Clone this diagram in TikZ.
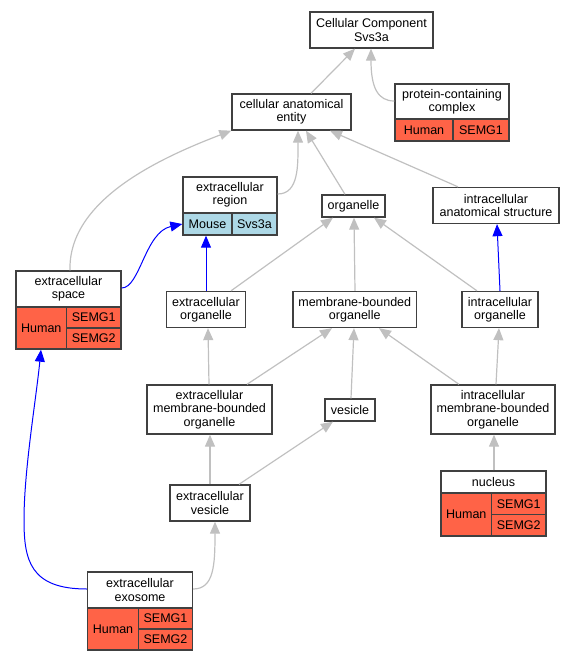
\documentclass[tikz,border=0pt]{standalone}
\usepackage{fontspec}
\setmainfont{Liberation Sans}
\usepackage{tikz}
\usetikzlibrary{arrows.meta}
\definecolor{tomato}{RGB}{255,99,71}
\definecolor{mouseblue}{RGB}{173,216,230}
\definecolor{edgegray}{RGB}{192,192,192}
\definecolor{boxline}{RGB}{64,64,64}
\newcommand{\gofont}{\fontsize{9.4}{10}\selectfont}

\begin{document}
\begin{tikzpicture}[x=0.75pt,y=0.75pt,yscale=-1,xscale=1,
  wh/.style 2 args={minimum width=#1*0.75pt,minimum height=#2*0.75pt},
  term/.style={draw=boxline,line width=1pt,fill=white,align=center,inner sep=0pt,font=\gofont},
  human/.style={term,fill=tomato},
  mouse/.style={term,fill=mouseblue},
  isa/.style={draw=edgegray,line width=0.9pt,-{Triangle[length=9pt,width=7.5pt]}},
  partof/.style={draw=blue,line width=0.75pt,-{Triangle[length=9pt,width=7.5pt]}}]
\useasboundingbox (0,0) rectangle (577,661);

% Terms
\node[term,wh={123}{36}] (root) at (371.5,30) {Cellular Component\\Svs3a};
\node[term,wh={119}{36}] (cae) at (291.5,112) {cellular anatomical\\entity};
% protein-containing complex
\node[term,wh={114}{35}] (pcc) at (452,101.5) {protein-containing\\complex};
\node[human,wh={58}{22}] (pcchuman) at (424,130) {Human};
\node[human,wh={56}{22}] (pccsemg1) at (481,130) {SEMG1};
% extracellular region
\node[term,wh={94}{36}] (extreg) at (230,195) {extracellular\\region};
\node[mouse,wh={49}{22}] (extregmouse) at (207.5,224) {Mouse};
\node[mouse,wh={45}{22}] (extregsvs) at (254.5,224) {Svs3a};
\node[term,wh={63}{22}] (organelle) at (353.5,206) {organelle};
\node[term,wh={126}{36}] (ias) at (496,205.5) {intracellular\\anatomical structure};
% extracellular space
\node[term,wh={105}{36}] (extspace) at (68.5,289) {extracellular\\space};
\node[human,wh={50.5}{42}] (extspacehuman) at (41.25,328) {Human};
\node[human,wh={54.5}{21}] (extspacesemg1) at (93.75,317.5) {SEMG1};
\node[human,wh={54.5}{21}] (extspacesemg2) at (93.75,338.5) {SEMG2};
\node[term,wh={79}{36}] (extorg) at (206,309.5) {extracellular\\organelle};
\node[term,wh={123.5}{36}] (mbo) at (354.75,309.5) {membrane-bounded\\organelle};
\node[term,wh={76}{36}] (intorg) at (500,309.5) {intracellular\\organelle};
\node[term,wh={125}{49}] (embo) at (209.5,409.5) {extracellular\\membrane-bounded\\organelle};
\node[term,wh={50}{22}] (vesicle) at (350,410) {vesicle};
\node[term,wh={124}{49}] (imbo) at (493,409.5) {intracellular\\membrane-bounded\\organelle};
\node[term,wh={80}{36}] (extves) at (210,503) {extracellular\\vesicle};
% nucleus
\node[term,wh={105}{22}] (nucleus) at (493.5,482) {nucleus};
\node[human,wh={50.5}{43}] (nucleushuman) at (466.25,514.5) {Human};
\node[human,wh={54.5}{21.5}] (nucleussemg1) at (518.75,503.75) {SEMG1};
\node[human,wh={54.5}{21.5}] (nucleussemg2) at (518.75,525.25) {SEMG2};
% extracellular exosome
\node[term,wh={105}{36}] (exosome) at (140,590) {extracellular\\exosome};
\node[human,wh={51}{42}] (exosomehuman) at (113,629) {Human};
\node[human,wh={54}{21}] (exosomesemg1) at (165.5,618.5) {SEMG1};
\node[human,wh={54}{21}] (exosomesemg2) at (165.5,639.5) {SEMG2};

% is_a edges
\draw[isa] (cae.north -| 311,0) -- (root.south -| 355,0);
\draw[isa] (pcc.west |- 0,101) .. controls (378,101) and (371,88) .. (root.south -| 371,0);
\draw[isa] (extreg.east |- 0,194) .. controls (299,194) and (298,165) .. (cae.south -| 298,0);
\draw[isa] (extspace.north -| 70,0) .. controls (68,200) and (160,158) .. (cae.south west);
\draw[isa] (organelle.north -| 345,0) -- (cae.south -| 306,0);
\draw[isa] (ias.north -| 458,0) -- (cae.south -| 330,0);
\draw[isa] (extorg.north -| 231,0) -- (organelle.south -| 333,0);
\draw[isa] (mbo.north -| 355,0) -- (organelle.south -| 354,0);
\draw[isa] (intorg.north -| 477,0) -- (organelle.south -| 374,0);
\draw[isa] (embo.north -| 209,0) -- (extorg.south -| 208,0);
\draw[isa] (embo.north -| 247,0) -- (mbo.south -| 332,0);
\draw[isa] (vesicle.north -| 351,0) -- (mbo.south -| 354,0);
\draw[isa] (imbo.north -| 459,0) -- (mbo.south -| 379,0);
\draw[isa] (imbo.north -| 496,0) -- (intorg.south -| 499,0);
\draw[isa] (extves.north -| 210,0) -- (embo.south -| 210,0);
\draw[isa] (extves.north -| 239,0) -- (vesicle.south -| 333,0);
\draw[isa] (nucleus.north -| 494,0) -- (imbo.south -| 494,0);
\draw[isa] (exosome.east |- 0,589) .. controls (214,589) and (215,565) .. (extves.south -| 215,0);

% part_of edges
\draw[partof] (extorg.north -| 206,0) -- (extregmouse.south -| 206,0);
\draw[partof] (extspace.east |- 0,288) .. controls (140,288) and (145,232) .. (extregmouse.west);
\draw[partof] (intorg.north -| 500,0) -- (ias.south -| 497,0);
\draw[partof] (exosome.west |- 0,589) .. controls (30,589) and (24,560) .. (24,520) .. controls (24,470) and (36,400) .. (extspacehuman.south -| 41,0);

\end{tikzpicture}
\end{document}
